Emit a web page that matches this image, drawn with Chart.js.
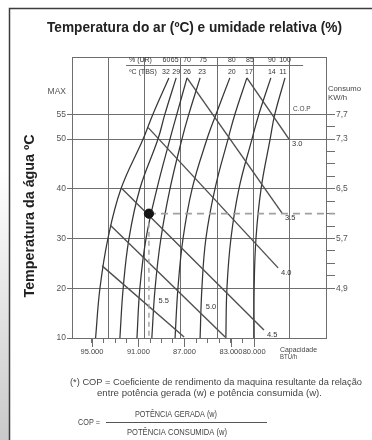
<!DOCTYPE html>
<html><head><meta charset="utf-8">
<script src="https://cdn.jsdelivr.net/npm/chart.js@4.4.0/dist/chart.umd.min.js"></script>
<style>html,body{margin:0;padding:0;background:#fff;}canvas{display:block;}</style>
</head><body>
<canvas id="c" width="372" height="440"></canvas>
<script>
// ---------- data ----------
const tbsLabels = ['32','29','26','23','20','17','14','11'];      // ºC (TBS)
const urLabels  = ['60','65','70','75','80','85','90','100'];     // % (UR)
const curveTemps = [62.3, 55, 50, 40, 30, 20, 10];               // water temp at sampled points
const curve32 = [2.67, 2.23, 1.96, 1.35, 0.99, 0.77, 0.65];
const curve29 = [2.87, 2.56, 2.37, 1.87, 1.57, 1.41, 1.32];
const curve26 = [3.17, 2.89, 2.70, 2.34, 2.04, 1.87, 1.79];
const curve23 = [3.53, 3.22, 3.03, 2.70, 2.45, 2.29, 2.20];
const curve20 = [4.35, 3.97, 3.72, 3.31, 3.06, 2.92, 2.84];
const curve17 = [4.82, 4.49, 4.30, 3.94, 3.69, 3.58, 3.53];
const curve14 = [5.48, 5.15, 4.96, 4.60, 4.38, 4.27, 4.24];
const curve11 = [5.87, 5.59, 5.46, 5.21, 5.07, 5.02, 5.02];
const copLabels = ['3.0','3.5','4.0','4.5','5.0','5.5'];
const copStartX = [4.82, 3.17, 2.10, 1.38, 1.05, 0.83];
const copStartT = [62.3, 62.3, 52.3, 40.0, 32.7, 24.5];
const copEndX   = [5.98, 5.79, 5.68, 5.29, 4.22, 3.09];
const copEndT   = [50.0, 35.1, 24.1, 11.6, 10.2, 10.2];
const waterTicks = [10, 20, 30, 40, 50, 55];
const maxTemp = 59.5;                                            // "MAX" mark
const consumoAt10 = 4.1, consumoPerDeg = 0.08;                   // KW/h scale vs water temp
const consumoMajor = [4.9, 5.7, 6.5, 7.3, 7.7];
const consumoMinor = [5.1, 5.3, 5.5, 5.9, 6.1, 6.3, 6.7, 6.9, 7.1, 7.5];
const capacityTicks = [0.55, 0.87, 1.19, 1.51, 1.83, 2.15, 2.46, 2.78, 3.10, 3.42, 3.74, 4.06, 4.38, 4.70, 5.02];
const capacityMajorIdx = [0, 4, 8, 12, 14];
const capacityLabels = ['95.000', '91.000', '87.000', '83.000', '80.000'];
const pointTemp = 35, pointX = 2.12;                             // operating point
const dashEndX = 7.25;

// ---------- styles ----------
const GRID = '#6e6e6e', INK = '#363636', COPC = '#505050';
const NARROW = '"Liberation Sans Narrow","Liberation Sans",Arial,sans-serif';
const SANS = '"Liberation Sans",Arial,sans-serif';
const yMin = 10, yMax = 66.5;
const urShift  = [-2.5, -1.5, 0, 3, 2, 3, 1, 0];   // label nudges (px)
const tbsShift = [-3, 0, 0, 2, 2, 2, 1, -2];

const curves = [curve32, curve29, curve26, curve23, curve20, curve17, curve14, curve11];
const datasets = [];
datasets.push({type:'scatter', label:'ponto', data:[{x:pointX, y:pointTemp}], pointRadius:4.6,
  pointBackgroundColor:'#151515', pointBorderColor:'#151515', xAxisID:'x', yAxisID:'y'});
datasets.push({type:'line', label:'dash-h', data:[{x:pointX,y:pointTemp},{x:dashEndX,y:pointTemp}],
  borderColor:'#a0a0a0', borderWidth:1.6, borderDash:[7,5], pointRadius:0, clip:false, xAxisID:'x', yAxisID:'y'});
datasets.push({type:'line', label:'dash-v', data:[{x:pointX,y:pointTemp},{x:pointX,y:yMin}],
  borderColor:'#a0a0a0', borderWidth:1.4, borderDash:[5,4], pointRadius:0, xAxisID:'x', yAxisID:'y'});
copLabels.forEach((l,i)=>datasets.push({type:'line', label:'COP '+l,
  data:[{x:copStartX[i],y:copStartT[i]},{x:copEndX[i],y:copEndT[i]}],
  borderColor:COPC, borderWidth:1.4, pointRadius:0, xAxisID:'x', yAxisID:'y'}));
curves.forEach((xs,i)=>datasets.push({type:'line', label:'TBS '+tbsLabels[i],
  data:xs.map((x,j)=>({x:x, y:curveTemps[j]})), borderColor:INK, borderWidth:1.25,
  pointRadius:0, tension:0.4, xAxisID:'x', yAxisID:'y'}));

function txt(c, s, x, y, font, color, align, w, base){
  c.save(); c.font = font; c.fillStyle = color; c.textAlign = align || 'center';
  c.textBaseline = base || 'middle';
  c.translate(x, y);
  if (w){ const m = c.measureText(s).width; c.scale(w/m, 1); }
  c.fillText(s, 0, 0); c.restore();
}

const decor = {
  id:'decor',
  beforeDraw(chart){
    const c = chart.ctx; c.save();
    c.fillStyle = '#fff'; c.fillRect(0,0,chart.width,chart.height);
    const g = c.createLinearGradient(0,170,0,440);
    g.addColorStop(0,'#ffffff'); g.addColorStop(1,'#c9c9c9');
    c.fillStyle = g; c.fillRect(0,0,9,440);
    c.strokeStyle = '#3c3c3c'; c.lineWidth = 1.5;
    c.beginPath(); c.moveTo(9.5,440); c.lineTo(9.5,8.5); c.lineTo(372,8.5); c.stroke();
    c.restore();
  },
  afterDraw(chart){
    const c = chart.ctx, xs = chart.scales.x, ys = chart.scales.y, a = chart.chartArea;
    const X = v => xs.getPixelForValue(v), Y = v => ys.getPixelForValue(v);
    // titles
    txt(c,'Temperatura do ar (ºC) e umidade relativa (%)',194.5,31.5,'bold 14.5px '+NARROW,'#222','center',295,'alphabetic');
    c.save(); c.translate(30,216); c.rotate(-Math.PI/2);
    txt(c,'Temperatura da água ºC',0,4,'bold 14px '+NARROW,'#222','center',163,'alphabetic');
    c.restore();
    // table on top
    c.save(); c.strokeStyle = GRID; c.lineWidth = 1;
    c.beginPath(); c.moveTo(X(1.49), Math.round(Y(64.9))+0.5); c.lineTo(X(6.37), Math.round(Y(64.9))+0.5); c.stroke();
    c.restore();
    const tf = '7px '+NARROW, tc = '#333';
    txt(c,'% (UR)', X(1.57), Y(65.85), tf, tc, 'left');
    txt(c,'ºC (TBS)', X(1.57), Y(63.5), tf, tc, 'left');
    curves.forEach((xs2,i)=>{
      txt(c, urLabels[i], X(xs2[0])+urShift[i], Y(65.85), tf, tc, 'center');
      txt(c, tbsLabels[i], X(xs2[0])+tbsShift[i], Y(63.5), tf, tc, 'center');
    });
    // COP labels
    txt(c,'C.O.P', 293, Y(55)-5, '6.5px '+SANS, '#444', 'left');
    const lf = '7.5px '+NARROW, lc = '#333';
    for (let i=0;i<4;i++) txt(c, copLabels[i], X(copEndX[i])+3, Y(copEndT[i])+5, lf, lc, 'left');
    txt(c, copLabels[4], X(3.83), Y(16.2), lf, lc, 'center');
    txt(c, copLabels[5], X(2.53), Y(17.4), lf, lc, 'center');
    // right / bottom axis titles
    txt(c,'Consumo', 328, 89, '8px '+NARROW, '#444', 'left', 33);
    txt(c,'KW/h', 328, 98, '8px '+NARROW, '#444', 'left', 19);
    txt(c,'Capacidade', 280, 350, '7px '+NARROW, '#444', 'left', 37);
    txt(c,'BTU/h', 280, 357, '7px '+NARROW, '#444', 'left', 17);
    // longer major ticks on capacity axis
    c.save(); c.strokeStyle = GRID; c.lineWidth = 1;
    capacityMajorIdx.forEach(i=>{ const px = Math.round(X(capacityTicks[i]))+0.5;
      c.beginPath(); c.moveTo(px, a.bottom); c.lineTo(px, a.bottom+9); c.stroke(); });
    c.restore();
    // footnote
    const ff = '8.5px '+SANS, fc = '#444';
    txt(c,'(*) COP = Coeficiente de rendimento da maquina resultante da relação', 70, 383, ff, fc, 'left', 292);
    txt(c,'entre potência gerada (w) e potência consumida (w).', 209.5, 393.5, ff, fc, 'center', 225);
    txt(c,'COP =', 78, 423, ff, fc, 'left', 22);
    txt(c,'POTÊNCIA GERADA (w)', 176, 415, ff, fc, 'center', 82);
    txt(c,'POTÊNCIA CONSUMIDA (w)', 177, 432.5, ff, fc, 'center', 100);
    c.save(); c.strokeStyle = '#555'; c.lineWidth = 1;
    c.beginPath(); c.moveTo(106, 422.5); c.lineTo(267, 422.5); c.stroke(); c.restore();
  }
};

new Chart(document.getElementById('c'), {
  data:{datasets:datasets},
  options:{
    responsive:false, animation:false, devicePixelRatio:1,
    layout:{padding:{top:57, left:0, right:0, bottom:0}},
    plugins:{legend:{display:false}, tooltip:{enabled:false}},
    scales:{
      xg:{type:'linear', position:'top', min:0, max:7,
        ticks:{display:false, stepSize:1}, grid:{color:GRID, lineWidth:1, drawTicks:false},
        border:{display:true, color:GRID, width:1}, afterFit(s){ s.height = 0; }},
      x:{type:'linear', position:'bottom', min:0, max:7,
        afterBuildTicks(s){ s.ticks = capacityTicks.map(v=>({value:v})); },
        ticks:{autoSkip:false, maxRotation:0, padding:4, color:'#444',
          font:{size:7.5, family:NARROW},
          callback(v){ const k = capacityMajorIdx.indexOf(capacityTicks.indexOf(v)); return k>=0 ? capacityLabels[k] : ''; }},
        grid:{drawOnChartArea:false, tickLength:5, color:GRID, lineWidth:1},
        border:{display:true, color:GRID, width:1}, afterFit(s){ s.height = 102; }},
      y:{type:'linear', position:'left', min:yMin, max:yMax,
        afterBuildTicks(s){ s.ticks = waterTicks.concat([maxTemp]).map(v=>({value:v})); },
        ticks:{autoSkip:false, padding:1, color:'#555', font:{size:8.5, family:NARROW},
          callback(v){ return v===maxTemp ? 'MAX' : String(v); }},
        grid:{tickLength:5, lineWidth:1, color(ctx){ return ctx.tick && ctx.tick.value===maxTemp ? 'rgba(0,0,0,0)' : GRID; }},
        border:{display:true, color:GRID, width:1}, afterFit(s){ s.width = 72; }},
      y2:{type:'linear', position:'right',
        min:consumoAt10, max:consumoAt10 + consumoPerDeg*(yMax-yMin),
        afterBuildTicks(s){ s.ticks = consumoMajor.concat(consumoMinor).sort((p,q)=>p-q).map(v=>({value:v})); },
        ticks:{autoSkip:false, padding:1, color:'#555', font:{size:8.5, family:NARROW},
          callback(v){ return consumoMajor.includes(v) ? v.toFixed(1).replace('.',',') : ''; }},
        grid:{drawOnChartArea:false, tickLength:9, color:GRID, lineWidth:1},
        border:{display:true, color:GRID, width:1}, afterFit(s){ s.width = 46; }}
    }
  },
  plugins:[decor]
});
</script>
</body></html>
